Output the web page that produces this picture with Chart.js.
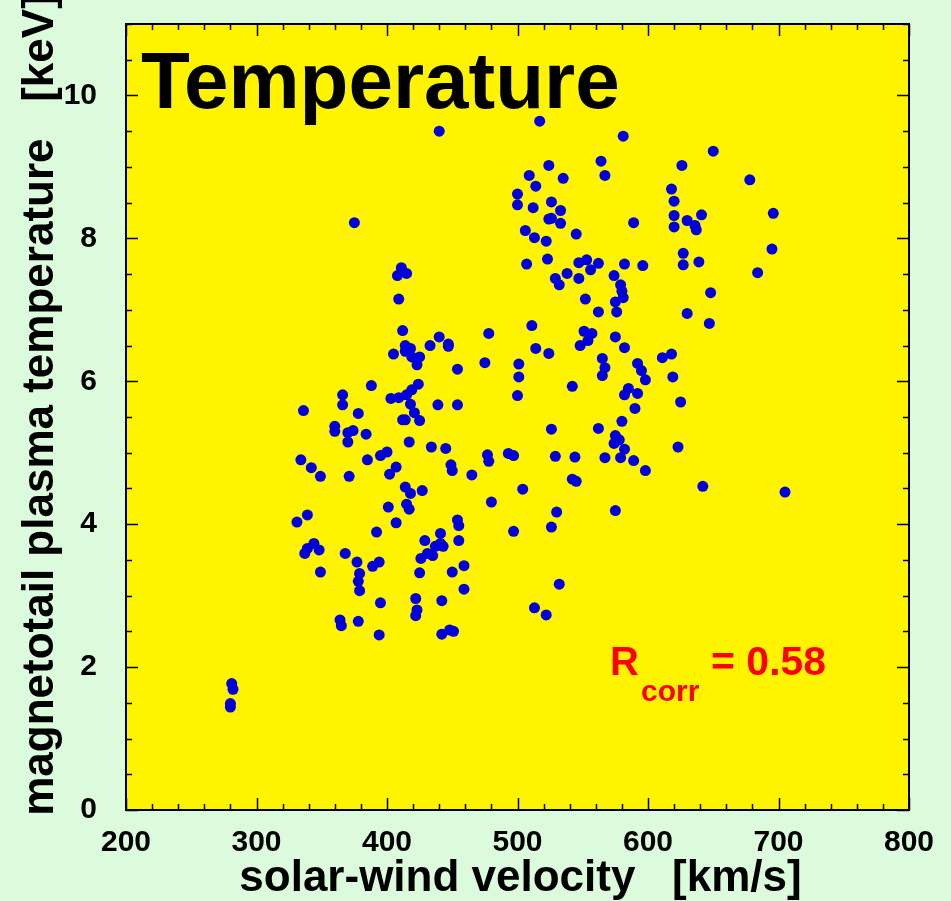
<!DOCTYPE html>
<html>
<head>
<meta charset="utf-8">
<title>Temperature vs solar-wind velocity</title>
<script src="https://cdn.jsdelivr.net/npm/chart.js@4.4.1/dist/chart.umd.min.js"></script>
<style>
  body { margin: 0; background: #dcfadc; }
  #wrap { width: 951px; height: 901px; }
</style>
</head>
<body>
<div id="wrap"><canvas id="myChart" width="951" height="901"></canvas></div>
<script>
// solar-wind velocity [km/s] for each event
const velocity = [
	440, 375, 411, 408, 415, 409, 412, 478, 440, 414, 418, 414, 433, 447, 447, 405, 419, 425, 423, 454,
	475, 388, 366, 424, 419, 415, 409, 403, 366, 336, 378, 418, 421, 439, 454, 412, 414, 425, 360, 360,
	370, 374, 370, 384, 417, 434, 445, 477, 478, 334, 342, 349, 371, 385, 395, 400, 407, 402, 449, 450,
	465, 414, 418, 427, 401, 415, 417, 480, 339, 331, 407, 392, 454, 455, 429, 441, 437, 443, 441, 455,
	431, 435, 426, 344, 339, 337, 348, 368, 377, 389, 394, 349, 379, 378, 379, 425, 450, 459, 459, 395,
	422, 442, 423, 422, 364, 365, 378, 394, 442, 448, 451,
	517, 581, 650, 564, 567, 524, 626, 509, 535, 514, 500, 500, 512, 526, 533, 524, 526, 533, 618, 620,
	620, 620, 630, 636, 637, 641, 589, 506, 513, 522, 545, 507, 523, 529, 532, 538, 547, 553, 562, 556,
	547, 582, 596, 574, 579, 580, 581, 575, 552, 562, 576, 630, 639, 627, 627, 648, 647, 511, 551, 557,
	554, 548, 514, 524, 575, 582, 501, 501, 500, 542, 565, 567, 565, 592, 595, 598, 611, 618, 619, 585,
	582, 592,
	625, 590, 526, 562, 580, 575, 578, 574, 582, 579, 567, 589, 598, 623, 493, 497, 529, 544, 542, 545,
	504, 642, 530, 575, 526, 497, 532, 513, 522,
	678, 696, 695, 684, 705,
	281, 282, 280, 280
];

// magnetotail plasma temperature [keV], same order
const temperature = [
	9.50, 8.22, 7.59, 7.48, 7.51, 7.15, 6.71, 6.67, 6.62, 6.50, 6.46, 6.42, 6.50, 6.52, 6.49, 6.38, 6.34, 6.34, 6.23, 6.17,
	6.26, 5.94, 5.81, 5.96, 5.88, 5.81, 5.77, 5.76, 5.67, 5.59, 5.55, 5.68, 5.56, 5.67, 5.67, 5.46, 5.46, 5.45, 5.37, 5.30,
	5.28, 5.31, 5.15, 5.26, 5.15, 5.08, 5.06, 4.97, 4.88, 4.90, 4.79, 4.67, 4.67, 4.90, 4.96, 5.01, 4.80, 4.70, 4.83, 4.75,
	4.69, 4.52, 4.43, 4.47, 4.24, 4.28, 4.21, 4.31, 4.13, 4.03, 4.02, 3.89, 4.06, 3.98, 3.77, 3.87, 3.69, 3.69, 3.73, 3.77,
	3.59, 3.56, 3.52, 3.73, 3.66, 3.59, 3.64, 3.59, 3.47, 3.41, 3.47, 3.33, 3.31, 3.20, 3.07, 3.32, 3.33, 3.42, 3.09, 2.90,
	2.96, 2.93, 2.80, 2.72, 2.66, 2.58, 2.64, 2.45, 2.46, 2.52, 2.50,
	9.64, 9.43, 9.22, 9.08, 8.88, 9.02, 9.02, 8.88, 8.84, 8.73, 8.62, 8.47, 8.43, 8.51, 8.39, 8.27, 8.28, 8.21, 8.69, 8.52,
	8.32, 8.16, 8.25, 8.18, 8.12, 8.33, 8.22, 8.11, 8.01, 7.96, 8.06, 7.64, 7.71, 7.44, 7.35, 7.51, 7.66, 7.70, 7.65, 7.56,
	7.44, 7.64, 7.62, 7.48, 7.35, 7.26, 7.17, 7.11, 7.15, 6.97, 6.97, 6.95, 7.67, 7.79, 7.63, 7.24, 6.81, 6.78, 6.70, 6.67,
	6.57, 6.50, 6.46, 6.39, 6.62, 6.47, 6.24, 6.06, 5.80, 5.93, 6.32, 6.19, 6.08, 6.25, 6.15, 6.02, 6.33, 6.38, 6.06, 5.90,
	5.81, 5.83,
	5.71, 5.62, 5.33, 5.34, 5.44, 5.24, 5.18, 5.13, 5.05, 4.93, 4.93, 4.89, 4.75, 5.08, 4.99, 4.96, 4.95, 4.94, 4.63, 4.60,
	4.49, 4.53, 4.17, 4.19, 3.96, 3.90, 3.16, 2.83, 2.73,
	8.82, 8.35, 7.85, 7.52, 4.45,
	1.77, 1.69, 1.49, 1.44
];

// axis ticks
const xTicks = [200, 300, 400, 500, 600, 700, 800];
const yTicks = [0, 2, 4, 6, 8, 10];
const xMinorStep = 20;
const yMinorStep = 0.5;

const plotTitle = 'Temperature';
const corrValue = '0.58';
const xTitle = 'solar-wind velocity   [km/s]';
const yTitle = 'magnetotail plasma temperature   [keV]';

const pageColor = '#dcfadc';
const plotColor = '#fff400';
const dotColor = '#0000dd';
const font = '"Liberation Sans", Arial, Helvetica, sans-serif';

const points = [];
for (let i = 0; i < velocity.length; i++) {
	points.push({ x: velocity[i], y: temperature[i] });
}

// page + yellow plot background
const bgPlugin = {
	id: 'bgPlugin',
	beforeDraw(chart) {
		const ctx = chart.ctx;
		const a = chart.chartArea;
		ctx.save();
		ctx.fillStyle = pageColor;
		ctx.fillRect(0, 0, chart.width, chart.height);
		ctx.fillStyle = plotColor;
		ctx.fillRect(a.left, a.top, a.right - a.left, a.bottom - a.top);
		ctx.restore();
	}
};

// frame and inward ticks on all four sides
const framePlugin = {
	id: 'framePlugin',
	afterDatasetsDraw(chart) {
		const ctx = chart.ctx;
		const a = chart.chartArea;
		const xs = chart.scales.x;
		const ys = chart.scales.y;
		ctx.save();
		ctx.strokeStyle = '#000';
		ctx.lineWidth = 1.5;
		ctx.beginPath();
		for (let v = xs.min; v <= xs.max + 0.001; v += xMinorStep) {
			const px = Math.round(xs.getPixelForValue(v)) + 0.5;
			const len = xTicks.includes(Math.round(v)) ? 12 : 6;
			ctx.moveTo(px, a.bottom);
			ctx.lineTo(px, a.bottom - len);
			ctx.moveTo(px, a.top);
			ctx.lineTo(px, a.top + len);
		}
		for (let v = ys.min; v <= ys.max + 0.001; v += yMinorStep) {
			const py = Math.round(ys.getPixelForValue(v)) + 0.5;
			const len = yTicks.includes(v) ? 12 : 6;
			ctx.moveTo(a.left, py);
			ctx.lineTo(a.left + len, py);
			ctx.moveTo(a.right, py);
			ctx.lineTo(a.right - len, py);
		}
		ctx.stroke();
		ctx.lineWidth = 2;
		ctx.strokeRect(a.left, a.top, a.right - a.left, a.bottom - a.top);
		ctx.restore();
	}
};

// titles and the correlation note
const textPlugin = {
	id: 'textPlugin',
	afterDraw(chart) {
		const ctx = chart.ctx;
		const a = chart.chartArea;
		ctx.save();
		ctx.textBaseline = 'alphabetic';
		ctx.fillStyle = '#000';

		ctx.font = 'bold 80px ' + font;
		ctx.textAlign = 'left';
		ctx.fillText(plotTitle, a.left + 15, a.top + 84);

		// x axis title
		ctx.font = 'bold 44px ' + font;
		ctx.textAlign = 'center';
		ctx.fillText(xTitle, (a.left + a.right) / 2 + 3, 891);

		// y axis title, runs off the top like the original
		ctx.save();
		ctx.translate(53, 405);
		ctx.rotate(-Math.PI / 2);
		ctx.textAlign = 'center';
		ctx.fillText(yTitle, 0, 0);
		ctx.restore();

		// R_corr = 0.58
		ctx.fillStyle = '#ff0000';
		ctx.textAlign = 'left';
		ctx.font = 'bold 40px ' + font;
		ctx.fillText('R', 610, 675);
		ctx.font = 'bold 30px ' + font;
		ctx.fillText('corr', 641, 701);
		ctx.font = 'bold 41px ' + font;
		ctx.fillText('= ' + corrValue, 711, 675);
		ctx.restore();
	}
};

const ctx = document.getElementById('myChart');

new Chart(ctx, {
	type: 'scatter',
	data: {
		datasets: [{
			data: points,
			backgroundColor: dotColor,
			borderWidth: 0,
			pointRadius: 5.5,
			pointHoverRadius: 5.5
		}]
	},
	options: {
		responsive: false,
		animation: false,
		devicePixelRatio: 1,
		layout: { padding: { top: 24, right: 42, left: 0, bottom: 0 } },
		plugins: {
			legend: { display: false },
			tooltip: { enabled: false }
		},
		scales: {
			x: {
				type: 'linear',
				min: 200,
				max: 800,
				grid: { display: false },
				border: { display: false },
				afterBuildTicks: s => { s.ticks = xTicks.map(v => ({ value: v })); },
				afterFit: s => { s.height = 91; s.paddingLeft = 0; s.paddingRight = 0; },
				ticks: {
					color: '#000',
					padding: 7,
					maxRotation: 0,
					font: { family: font, size: 30, weight: 'bold' }
				}
			},
			y: {
				type: 'linear',
				min: 0,
				max: 11,
				grid: { display: false },
				border: { display: false },
				afterBuildTicks: s => { s.ticks = yTicks.map(v => ({ value: v })); },
				afterFit: s => { s.width = 126; s.paddingTop = 0; s.paddingBottom = 0; },
				ticks: {
					color: '#000',
					padding: 21,
					font: { family: font, size: 30, weight: 'bold' }
				}
			}
		}
	},
	plugins: [bgPlugin, framePlugin, textPlugin]
});
</script>
</body>
</html>
